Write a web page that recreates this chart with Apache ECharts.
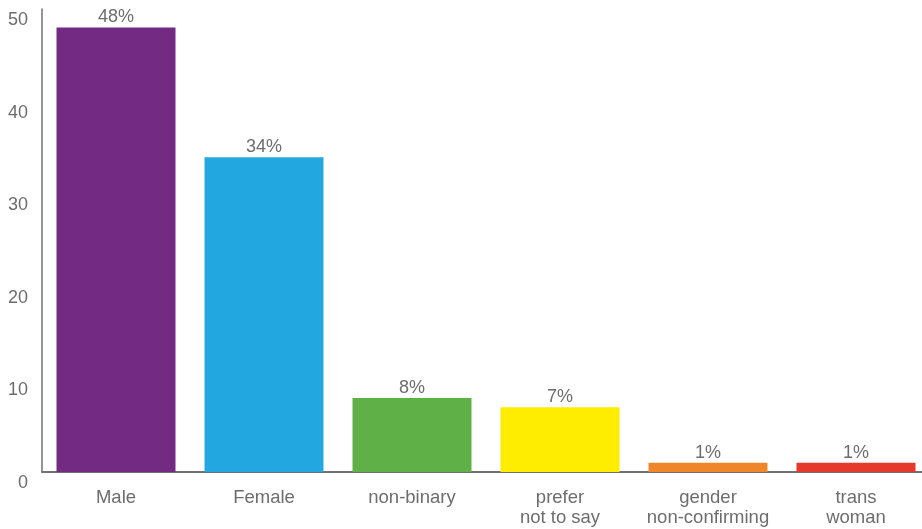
<!DOCTYPE html>
<html>
<head>
<meta charset="utf-8">
<style>
  html, body { margin: 0; padding: 0; background: #fff; }
  #chart { width: 922px; height: 529px; }
</style>
<script src="https://cdn.jsdelivr.net/npm/echarts@6/dist/echarts.min.js"></script>
</head>
<body>
<div id="chart"></div>
<script>
// Gender breakdown of respondents (percent)
const categories = ['Male', 'Female', 'non-binary', 'prefer\nnot to say', 'gender\nnon-confirming', 'trans\nwoman'];
const values = [48, 34, 8, 7, 1, 1];
const barColors = ['#732a82', '#22a7e0', '#5eb047', '#ffed00', '#f0862a', '#e4392b'];
const yTicks = [0, 10, 20, 30, 40, 50];

const chart = echarts.init(document.getElementById('chart'), null, { renderer: 'canvas' });
const textColor = '#6d6d6d';
const font = '"Liberation Sans", Arial, sans-serif';

chart.setOption({
  animation: false,
  grid: { left: 42, top: 9, width: 888, height: 463, containLabel: false, outerBoundsMode: 'none' },
  xAxis: {
    type: 'category',
    data: categories,
    axisLine: { show: true, lineStyle: { color: '#727272', width: 2 } },
    axisTick: { show: false },
    axisLabel: {
      color: textColor, fontSize: 18.5, fontFamily: font,
      margin: 16, lineHeight: 20, interval: 0
    }
  },
  yAxis: {
    type: 'value',
    min: yTicks[0],
    max: yTicks[yTicks.length - 1],
    interval: 10,
    axisLine: { show: true, lineStyle: { color: '#727272', width: 1.5 } },
    axisTick: { show: false },
    splitLine: { show: false },
    axisLabel: {
      color: textColor, fontSize: 18, fontFamily: font,
      margin: 14, verticalAlign: 'top', padding: [2, 0, 0, 0]
    }
  },
  series: [{
    type: 'bar',
    data: values.map((v, i) => ({ value: v, itemStyle: { color: barColors[i] } })),
    barCategoryGap: '19.6%',
    label: {
      show: true, position: 'top', distance: 1,
      color: textColor, fontSize: 18, fontFamily: font,
      formatter: p => p.value + '%'
    }
  }]
});
</script>
</body>
</html>
